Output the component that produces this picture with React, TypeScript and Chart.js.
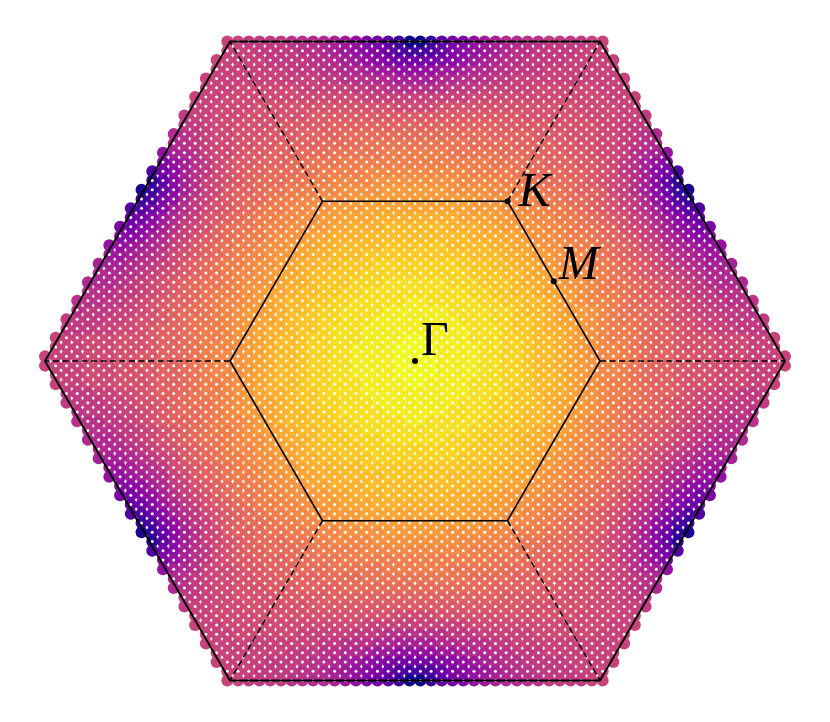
import React, { useEffect, useRef } from "react";
import { Chart, registerables } from "chart.js";

Chart.register(...registerables);

// Colour level alphabet: index / 35 -> value on the colour scale (0 .. 1)
const LEVELS = "0123456789abcdefghijklmnopqrstuvwxyz";

// k-grid: coordinates are (2n+1)/69 in units of the outer zone half-width (x) and half-height (y).
// One quadrant (kx >= 0, ky >= 0), row k = 0 (next to ky = 0) .. 34 (top zone edge),
// character m = column (next to kx = 0 outwards). The other quadrants are mirror images.
const levelRows = [
  "zzyyyyxxwwvuutsrqpponmllkkjjiiihhhh",
  "zzyyyyxxwwvuutsrqpponmllkjjjiiihhh",
  "zyyyyxxxwwvuutsrqpoonmllkjjjiiihhh",
  "yyyyyxxxwvvuttsrqpoonmllkjiihhggg",
  "yyyyxxxwwvvutssrqponnmlkjjihhgggg",
  "yyyxxxxwwvuutsrrqponmmlkjihhgggf",
  "yxxxxxwwvvuutsrqpponmllkjihggfff",
  "xxxxxwwvvuutssrqpoonmlkjihggfff",
  "xxxwwwvvvuttsrqqponnmlkjihgfeee",
  "wwwwwvvvuutssrqpponmlkjihgfeee",
  "wwwwvvvuuttsrqqpoonmlkihgfeddd",
  "vvvvvuuuttsrrqpponmlkjigfedcc",
  "vvvuuuuttssrqqpoonmlkihfedcbb",
  "uuuuutttssrqqpoonmlkjhgedbaa",
  "uuutttssrrqqpponnmljihfdba89",
  "ttttsssrrqqppoonmlkjhgeca87",
  "sssssrrrqqppoonmlkjigfda855",
  "rrrrrrqqqppoonmmlkjhgeb953",
  "rrrqqqqppooonnmllkihfda731",
  "qqqqppppoonnmmmlkjihfda62",
  "pppppoooonnmmmllkjigfda85",
  "ooooooonnnmmlllkkjigfdb9",
  "ooonnnnnmmmlllkkjiihfedb",
  "nnnnnmmmmllllkkjjiihgfe",
  "mmmmmmmllllkkkjjjiihgfe",
  "llllllllkkkkkjjjjiihgg",
  "kkkkkkkkkkjjjjjjiiihhg",
  "iijjjjjjjjjjjjjiiiihh",
  "hhhhhiiiiiiiiiiiiihhh",
  "fffggghhhhhiiiiiihhh",
  "ddeefffgghhhhhhhhhhh",
  "bbccdeeffggghhhhhhh",
  "889abcdeffgggghhhhh",
  "4579abcdeffgggghhh",
  "03689bcdeeffgggghh",
];
const gridDivisions = 69;

// Brillouin zone outlines (normalised coordinates)
const outerHexX = [1, 0.5, -0.5, -1, -0.5, 0.5, 1];
const outerHexY = [0, 1, 1, 0, -1, -1, 0];
const innerHexX = [0.5, 0.25, -0.25, -0.5, -0.25, 0.25, 0.5];
const innerHexY = [0, 0.5, 0.5, 0, -0.5, -0.5, 0];

// High-symmetry points
const pointNames = ["Γ", "K", "M"];
const pointX = [0, 0.25, 0.375];
const pointY = [0, 0.5, 0.25];

// plasma colour map
const plasmaStops: [number, number, number][] = [
  [13, 8, 135], [65, 4, 157], [106, 0, 168], [143, 13, 164], [177, 42, 144],
  [204, 71, 120], [225, 100, 98], [242, 132, 75], [252, 166, 54], [252, 206, 37], [240, 249, 33],
];
function plasma(t: number): string {
  const v = Math.max(0, Math.min(1, t)) * (plasmaStops.length - 1);
  const i = Math.min(plasmaStops.length - 2, Math.floor(v));
  const f = v - i;
  const a = plasmaStops[i], b = plasmaStops[i + 1];
  const c = a.map((av, j) => Math.round(av + (b[j] - av) * f));
  return `rgb(${c[0]},${c[1]},${c[2]})`;
}

export default function App() {
  const ref = useRef<HTMLCanvasElement>(null);

  useEffect(() => {
    if (!ref.current) return;
    const dots: { x: number; y: number }[] = [];
    const dotColors: string[] = [];
    const whites: { x: number; y: number }[] = [];
    levelRows.forEach((row, k) => {
      for (let m = 0; m < row.length; m++) {
        const t = LEVELS.indexOf(row[m]) / (LEVELS.length - 1);
        const col = plasma(t);
        const inside = 2 * m + k <= 67;
        for (const sy of [1, -1]) {
          for (const sx of [1, -1]) {
            const p = { x: (sx * (2 * m + 1)) / gridDivisions, y: (sy * (2 * k + 1)) / gridDivisions };
            dots.push(p);
            dotColors.push(col);
            if (inside) whites.push(p);
          }
        }
      }
    });

    const toXY = (xs: number[], ys: number[]) => xs.map((x, i) => ({ x, y: ys[i] }));
    const dashed: any[] = [];
    for (let i = 0; i < 6; i++) {
      dashed.push({
        type: "scatter",
        data: [
          { x: innerHexX[i], y: innerHexY[i] },
          { x: outerHexX[i], y: outerHexY[i] },
        ],
        showLine: true,
        borderColor: "#000",
        borderWidth: 1.5,
        borderDash: [6, 3.5],
        pointRadius: 0,
        order: 3,
      });
    }

    const labelStyle: Record<string, { dx: number; dy: number; italic: boolean }> = {
      "Γ": { dx: 6, dy: -6, italic: false },
      K: { dx: 11, dy: 5, italic: true },
      M: { dx: 5, dy: -2, italic: true },
    };

    const labelPlugin = {
      id: "bzLabels",
      afterDatasetsDraw(chart: any) {
        const { ctx, scales } = chart;
        ctx.save();
        ctx.fillStyle = "#000";
        ctx.textBaseline = "alphabetic";
        ctx.textAlign = "left";
        pointNames.forEach((name, i) => {
          const s = labelStyle[name];
          ctx.font = `${s.italic ? "italic " : ""}48px "Liberation Serif", serif`;
          ctx.fillText(
            name,
            scales.x.getPixelForValue(pointX[i]) + s.dx,
            scales.y.getPixelForValue(pointY[i]) + s.dy
          );
        });
        ctx.restore();
      },
    };

    const chart = new Chart(ref.current, {
      type: "scatter",
      data: {
        datasets: [
          {
            data: dots,
            pointBackgroundColor: dotColors,
            pointBorderWidth: 0,
            pointRadius: 6,
            order: 10,
          } as any,
          {
            data: whites,
            pointBackgroundColor: "#ffffff",
            pointBorderWidth: 0,
            pointRadius: 1.5,
            order: 9,
          } as any,
          ...dashed,
          {
            data: toXY(outerHexX, outerHexY),
            showLine: true,
            borderColor: "#000",
            borderWidth: 2,
            pointRadius: 0,
            order: 2,
          } as any,
          {
            data: toXY(innerHexX, innerHexY),
            showLine: true,
            borderColor: "#000",
            borderWidth: 1.6,
            pointRadius: 0,
            order: 2,
          } as any,
          {
            data: toXY(pointX, pointY),
            pointBackgroundColor: "#000",
            pointBorderWidth: 0,
            pointRadius: 3,
            order: 1,
          } as any,
        ],
      },
      options: {
        responsive: false,
        animation: false,
        events: [],
        layout: { padding: 0, autoPadding: false },
        plugins: { legend: { display: false }, tooltip: { enabled: false }, title: { display: false } },
        scales: {
          x: { type: "linear", display: false, min: -415 / 370, max: 415 / 370 },
          y: { type: "linear", display: false, min: -361 / 319.5, max: 361 / 319.5 },
        },
      } as any,
      plugins: [labelPlugin],
    });
    return () => chart.destroy();
  }, []);

  return (
    <canvas
      ref={ref}
      width={830}
      height={722}
      style={{ position: "absolute", left: 0, top: 0, width: 830, height: 722 }}
    />
  );
}
